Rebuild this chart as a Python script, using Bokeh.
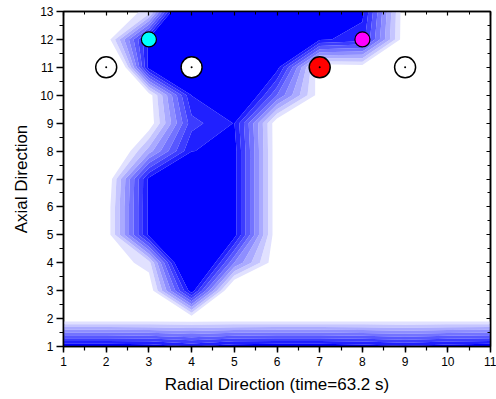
import numpy as np
from bokeh.plotting import figure
from bokeh.models import Range1d, LinearAxis, SingleIntervalTicker, CustomJSTickFormatter, Title
from bokeh.embed import file_html
from bokeh.resources import INLINE

# grid coordinates
radial = [1, 2, 3, 4, 5, 6, 7, 8, 9, 10, 11]
axial = [1, 2, 3, 4, 5, 6, 7, 8, 9, 10, 11, 12, 13]

# field values (one row per axial position, columns = radial 1..11)
z_ax01 = [1.00, 1.00, 0.98, 0.90, 0.98, 1.00, 1.00, 0.97, 0.92, 0.97, 1.00]
z_ax02 = [0.00, 0.00, 0.00, 0.00, 0.00, 0.00, 0.00, 0.00, 0.00, 0.00, 0.00]
z_ax03 = [0.00, 0.00, 0.00, 0.97, -0.16, 0.00, 0.00, 0.00, 0.00, 0.00, 0.00]
z_ax04 = [0.00, 0.00, 0.154, 1.40, 0.50, 0.00, 0.00, 0.00, 0.00, 0.00, 0.00]
z_ax05 = [0.00, 0.01, 0.93, 1.40, 0.95, 0.00, 0.00, 0.00, 0.00, 0.00, 0.00]
z_ax06 = [0.00, 0.01, 0.93, 1.40, 0.95, 0.00, 0.00, 0.00, 0.00, 0.00, 0.00]
z_ax07 = [0.00, -0.03, 0.93, 1.30, 0.95, 0.00, 0.00, 0.00, 0.00, 0.00, 0.00]
z_ax08 = [0.00, -0.23, 0.35, 0.895, 0.95, 0.00, 0.00, 0.00, 0.00, 0.00, 0.00]
z_ax09 = [0.00, 0.00, 0.01, 0.76, 0.905, 0.00, 0.00, 0.00, 0.00, 0.00, 0.00]
z_ax10 = [0.00, 0.00, 0.03, 0.902, 1.27, 0.60, 0.04, 0.00, 0.00, 0.00, 0.00]
z_ax11 = [0.00, -0.60, 0.95, 1.30, 1.30, 0.95, 0.00, 0.035, 0.00, 0.00, 0.00]
z_ax12 = [0.00, 0.01, 0.93, 1.50, 1.50, 1.40, 0.92, 0.85, 0.00, 0.00, 0.00]
z_ax13 = [0.00, 0.00, 0.13, 1.60, 1.60, 1.50, 1.30, 0.93, 0.00, 0.00, 0.00]

levels = [0.1, 0.2, 0.3, 0.4, 0.5, 0.6, 0.7, 0.8, 0.9, 100.0]
band_colors = ["#E1E1FF", "#C5C5FF", "#AAAAFF", "#8E8EFF",
               "#7373FF", "#5757FF", "#3C3CFF", "#2020FF", "#0000FF"]

# monitor points
big_x = [2, 4, 7, 9]
big_y = [11, 11, 11, 11]
big_color = ["white", "white", "#FF0000", "white"]
small_x = [3, 8]
small_y = [12, 12]
small_color = ["#00FFFF", "#FF00FF"]

x_title = "Radial Direction (time=63.2 s)"
y_title = "Axial Direction"

z = np.array([z_ax01, z_ax02, z_ax03, z_ax04, z_ax05, z_ax06, z_ax07,
              z_ax08, z_ax09, z_ax10, z_ax11, z_ax12, z_ax13])

FONT = "Liberation Sans"

p = figure(width=496, height=399, x_range=Range1d(1, 11), y_range=Range1d(1, 13),
           output_backend="svg", toolbar_location=None,
           min_border_left=63, min_border_right=6, min_border_top=11, min_border_bottom=53)
p.grid.visible = False
p.background_fill_color = "white"
p.border_fill_color = "white"
p.outline_line_color = "black"
p.outline_line_width = 1.5

p.contour(np.array(radial, dtype=float), np.array(axial, dtype=float), z, levels,
          fill_color=band_colors)

p.scatter(big_x, big_y, size=21, fill_color=big_color, line_color="black", line_width=1.5)
p.scatter(small_x, small_y, size=15, fill_color=small_color, line_color="black", line_width=1.2)
p.scatter(big_x, big_y, size=2, fill_color="black", line_color=None)

for ax in (p.xaxis[0], p.yaxis[0]):
    ax.axis_line_width = 1.5
    ax.major_tick_line_width = 1.5
    ax.minor_tick_line_width = 1.2
    ax.major_label_text_font = FONT
    ax.major_label_text_font_size = "12px"
    ax.major_label_text_color = "black"
    ax.axis_label_text_font = FONT
    ax.axis_label_text_font_size = "17px"
    ax.axis_label_text_font_style = "normal"
    ax.axis_label_text_color = "black"

p.xaxis.ticker = SingleIntervalTicker(interval=1, num_minor_ticks=2)
p.yaxis.ticker = SingleIntervalTicker(interval=1, num_minor_ticks=2)
p.xaxis.axis_label = x_title
p.xaxis.major_tick_out = 6
p.xaxis.major_tick_in = 0
p.xaxis.minor_tick_out = 4
p.xaxis.minor_tick_in = 0
p.xaxis.major_label_standoff = 4
p.xaxis.axis_label_standoff = 6
p.yaxis.major_tick_out = 7
p.yaxis.major_tick_in = 0
p.yaxis.minor_tick_out = 4
p.yaxis.minor_tick_in = 0
p.yaxis.major_label_standoff = 3

# y title as a side title, shifted a little below the frame centre as in the original
p.add_layout(Title(text=y_title, align="center", offset=-14, standoff=13,
                   text_font=FONT, text_font_size="17px", text_font_style="normal",
                   text_color="black"), "left")

blank = CustomJSTickFormatter(code="return ''")
top = LinearAxis(ticker=SingleIntervalTicker(interval=1, num_minor_ticks=2), formatter=blank,
                 major_tick_in=4, major_tick_out=0, minor_tick_in=3, minor_tick_out=0,
                 major_label_text_font_size="1px", axis_line_width=1.5,
                 major_tick_line_width=1.2, minor_tick_line_width=1.0, major_label_standoff=0)
right = LinearAxis(ticker=SingleIntervalTicker(interval=1, num_minor_ticks=2), formatter=blank,
                   major_tick_in=4, major_tick_out=0, minor_tick_in=3, minor_tick_out=0,
                   major_label_text_font_size="1px", axis_line_width=1.5,
                   major_tick_line_width=1.2, minor_tick_line_width=1.0, major_label_standoff=0)
p.add_layout(top, "above")
p.add_layout(right, "right")

open("out.html", "w").write(file_html(p, INLINE))
